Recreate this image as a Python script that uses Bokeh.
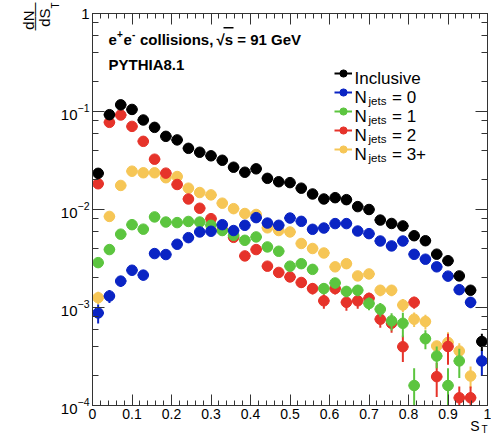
import numpy as np
from bokeh.plotting import figure
from bokeh.models import (Range1d, LinearAxis, LogAxis, FixedTicker, LogTicker,
                          CustomJSTickFormatter, LogTickFormatter, Label, Legend,
                          LegendItem, BoxAnnotation, ColumnDataSource, Title)
from bokeh.core.properties import value
from bokeh.embed import file_html
from bokeh.resources import INLINE

# ---------------- data ----------------
n_bins = 35
st_min, st_max = 0.0, 1.0
nan = float("nan")

inclusive = [0.0234, 0.0928, 0.117, 0.105, 0.0819, 0.0689, 0.0558, 0.0513, 0.0421, 0.0384,
             0.0353, 0.0318, 0.0270, 0.0240, 0.0260, 0.0208, 0.0192, 0.0188, 0.0165, 0.0144,
             0.0128, 0.0132, 0.0126, 0.0107, 0.0100, 0.0078, 0.0072, 0.0068, 0.0054, 0.0048,
             0.0035, 0.0030, 0.0021, 0.0015, 0.00045]
njets0 = [8.8e-4, 1.31e-3, 1.86e-3, 2.4e-3, 2.14e-3, 3.55e-3, 3.47e-3, 4.42e-3, 5.16e-3, 5.9e-3,
          6.0e-3, 7.0e-3, 6.1e-3, 6.9e-3, 8.26e-3, 7.27e-3, 6.9e-3, 8.18e-3, 7.57e-3, 6.28e-3,
          6.47e-3, 7.18e-3, 7.18e-3, 6.03e-3, 5.67e-3, 4.77e-3, 4.25e-3, 4.77e-3, 3.49e-3, 3.11e-3,
          2.6e-3, 2.09e-3, 1.52e-3, 1.13e-3, 2.85e-4]
njets1 = [2.87e-3, 3.9e-3, 5.6e-3, 7.0e-3, 6.3e-3, 8.4e-3, 7.45e-3, 7.35e-3, 7.55e-3, 7.45e-3,
          6.9e-3, 6.1e-3, 5.45e-3, 4.85e-3, 5.25e-3, 4.15e-3, 3.75e-3, 2.64e-3, 2.8e-3, 2.45e-3,
          1.56e-3, 1.78e-3, 1.46e-3, 1.5e-3, 1.1e-3, 9.6e-4, 7.3e-4, 6.9e-4, 1.6e-4, 4.8e-4,
          3.2e-4, 1.6e-4, 2.85e-4, nan, nan]
njets2 = [0.0183, 0.0775, 0.0921, 0.0705, 0.0496, 0.0326, 0.0235, 0.0180, 0.0128, 0.0103,
          0.00806, 0.0062, 0.0052, 0.00336, 0.0039, 0.00264, 0.00228, 0.00205, 0.0018, 0.00156,
          0.00117, 0.00156, 0.00113, 0.00117, 0.00124, 7.6e-4, 6.9e-4, 3.98e-4, 1.13e-3, nan,
          1.97e-4, 4.0e-4, 1.2e-4, 1.2e-4, nan]
njets3 = [1.26e-3, 0.0085, 0.0176, 0.0246, 0.0237, 0.0237, 0.0211, 0.0217, 0.0165, 0.0149,
          0.0141, 0.0116, 0.0102, 0.0091, 0.0089, 0.0065, 0.0061, 0.0059, 0.0045, 0.0040,
          0.0036, 0.0026, 0.0028, 0.0021, 0.0022, 0.0015, 0.0015, 0.00106, 7.6e-4, 7.2e-4,
          4.05e-4, 4.4e-4, 3.6e-4, 2.0e-4, nan]

# relative statistical uncertainties (read from the error-bar lengths)
inclusive_rel = [0.05, 0.02, 0.02, 0.02, 0.02, 0.02, 0.02, 0.02, 0.02, 0.02, 0.02, 0.02, 0.02,
                 0.02, 0.02, 0.02, 0.03, 0.03, 0.03, 0.03, 0.03, 0.03, 0.03, 0.03, 0.03, 0.04,
                 0.04, 0.04, 0.05, 0.05, 0.06, 0.06, 0.08, 0.10, 0.20]
njets0_rel = [0.22, 0.15, 0.13, 0.11, 0.12, 0.09, 0.09, 0.08, 0.07, 0.07, 0.06, 0.06, 0.06, 0.06,
              0.05, 0.06, 0.06, 0.05, 0.06, 0.06, 0.06, 0.06, 0.06, 0.06, 0.06, 0.07, 0.07, 0.07,
              0.08, 0.08, 0.09, 0.10, 0.12, 0.13, 0.30]
njets1_rel = [0.10, 0.09, 0.07, 0.07, 0.07, 0.06, 0.06, 0.06, 0.06, 0.06, 0.06, 0.07, 0.07, 0.07,
              0.07, 0.08, 0.08, 0.10, 0.10, 0.10, 0.13, 0.12, 0.13, 0.13, 0.15, 0.16, 0.20, 0.28,
              0.50, 0.22, 0.25, 0.50, 0.33, nan, nan]
njets2_rel = [0.06, 0.03, 0.03, 0.03, 0.03, 0.04, 0.04, 0.05, 0.05, 0.06, 0.06, 0.07, 0.07, 0.09,
              0.08, 0.10, 0.10, 0.11, 0.12, 0.13, 0.17, 0.13, 0.18, 0.17, 0.14, 0.18, 0.20, 0.30,
              0.14, nan, 0.38, 0.35, 0.30, 0.30, nan]
njets3_rel = [0.15, 0.08, 0.05, 0.04, 0.04, 0.04, 0.04, 0.04, 0.05, 0.05, 0.05, 0.05, 0.06, 0.06,
              0.06, 0.07, 0.07, 0.07, 0.08, 0.08, 0.09, 0.10, 0.10, 0.11, 0.11, 0.13, 0.13, 0.15,
              0.17, 0.17, 0.12, 0.27, 0.20, 0.25, nan]

x_ticks = [0.0, 0.1, 0.2, 0.3, 0.4, 0.5, 0.6, 0.7, 0.8, 0.9, 1.0]

series = [  # drawn in this order (last on top)
    ("3+", njets3, njets3_rel, "#f6c656"),
    ("2", njets2, njets2_rel, "#e6332a"),
    ("1", njets1, njets1_rel, "#5cc53f"),
    ("0", njets0, njets0_rel, "#0a24c4"),
    ("Inclusive", inclusive, inclusive_rel, "#000000"),
]
legend_order = ["Inclusive", "0", "1", "2", "3+"]

# ---------------- figure ----------------
W, H = 491, 442
BL, BR, BT, BB = 92, 4, 13, 37
FRAME_LEFT = BL              # page coordinates of the frame
FRAME_BOTTOM = H - BB

p = figure(width=W, height=H, y_axis_type="log",
           x_range=Range1d(st_min, st_max), y_range=Range1d(1e-4, 1.0),
           output_backend="svg", toolbar_location=None,
           min_border_left=BL, min_border_right=BR, min_border_top=BT, min_border_bottom=BB)
p.grid.visible = False
p.outline_line_color = "#333333"
p.background_fill_color = "white"
p.border_fill_color = "white"

xfmt = CustomJSTickFormatter(code="return (Math.abs(tick) < 1e-9 || Math.abs(tick-1) < 1e-9) ? tick.toFixed(0) : tick.toFixed(1);")
blank = CustomJSTickFormatter(code="return '';")
minor_x = [round(0.02 * k, 2) for k in range(51)]
xticker = FixedTicker(ticks=x_ticks, minor_ticks=minor_x)
yticker = LogTicker(mantissas=[1], desired_num_ticks=5)

def style_axis(ax, major_len, minor_len):
    ax.major_tick_in = major_len
    ax.major_tick_out = 0
    ax.minor_tick_in = minor_len
    ax.minor_tick_out = 0
    ax.axis_line_color = "#333333"
    ax.major_tick_line_color = "#333333"
    ax.minor_tick_line_color = "#333333"
    ax.major_label_text_font = "Liberation Sans"
    ax.major_label_text_color = "black"

xa = p.xaxis[0]
xa.ticker = xticker
xa.formatter = xfmt
style_axis(xa, 11, 5)
xa.major_label_text_font_size = "14px"
xa.major_label_standoff = 3

ya = p.yaxis[0]
ya.ticker = yticker
ya.formatter = LogTickFormatter(min_exponent=1)
style_axis(ya, 12, 6)
ya.major_label_text_font_size = "15px"
ya.major_label_standoff = 3

top = LinearAxis(ticker=xticker, formatter=blank)
style_axis(top, 11, 5)
top.major_label_standoff = 0
top.major_label_text_font_size = "2px"
p.add_layout(top, "above")
right = LogAxis(ticker=yticker, formatter=blank)
style_axis(right, 12, 6)
right.major_label_standoff = 0
right.major_label_text_font_size = "2px"
p.add_layout(right, "right")

edges = np.linspace(st_min, st_max, n_bins + 1)
centers = 0.5 * (edges[:-1] + edges[1:])
half = 0.5 * (edges[1] - edges[0])

renderers = {}
for name, vals, rels, color in series:
    y = np.array(vals, dtype=float)
    r = np.array(rels, dtype=float)
    m = ~np.isnan(y)
    x = centers[m]
    y = y[m]
    e = y * np.nan_to_num(r[m], nan=0.05)
    lo = np.maximum(y - e, 1e-6)
    hi = y + e
    seg_src = ColumnDataSource(dict(
        x0=np.concatenate([x, x - half]), x1=np.concatenate([x, x + half]),
        y0=np.concatenate([lo, y]), y1=np.concatenate([hi, y])))
    seg = p.segment("x0", "y0", "x1", "y1", source=seg_src, line_color=color, line_width=2)
    sc = p.scatter(x, y, marker="circle", size=10.5, fill_color=color, line_color=color)
    renderers[name] = (seg, sc)

# legend: glyphs via Legend, texts via labels
legend = Legend(items=[LegendItem(label=value(" "), renderers=list(renderers[k])) for k in legend_order],
                location=(334 - FRAME_LEFT, FRAME_BOTTOM - 158),
                glyph_width=18, glyph_height=18, label_height=18, label_width=1, spacing=1,
                padding=0, margin=0, label_standoff=0, label_text_font_size="8px",
                border_line_color=None, background_fill_alpha=0)
p.add_layout(legend)

def txt(xp, yp, s, size, bold=False, align="left", baseline="alphabetic", angle=0.0):
    p.add_layout(Label(x=xp - FRAME_LEFT, y=FRAME_BOTTOM - yp, x_units="screen", y_units="screen",
                       text=s, text_font="Liberation Sans", text_font_size=f"{size}px",
                       text_font_style="bold" if bold else "normal", text_color="black",
                       text_align=align, text_baseline=baseline, angle=angle))

row_c = [73, 92, 111, 130, 149]
txt(354, row_c[0] + 4.5, "Inclusive", 17)
for k, lab in enumerate(["0", "1", "2", "3+"]):
    b = row_c[k + 1] + 4.5
    txt(354, b, "N", 17)
    txt(368, b + 4, "jets", 11.5)
    txt(391.5, b, "= " + lab, 17)

# header text
txt(108, 39, "e", 15, bold=True)
txt(116.5, 33, "+", 10, bold=True)
txt(123, 39, "e", 15, bold=True)
txt(131.5, 33, "-", 10, bold=True)
txt(139.5, 39, "collisions,", 15, bold=True)
txt(216, 39, "\u221as = 91 GeV", 15, bold=True)
p.add_layout(BoxAnnotation(left=223 - FRAME_LEFT, right=233 - FRAME_LEFT,
                           top=FRAME_BOTTOM - 26.5, bottom=FRAME_BOTTOM - 28,
                           left_units="screen", right_units="screen",
                           top_units="screen", bottom_units="screen",
                           fill_color="black", fill_alpha=1, line_color=None))
txt(108, 64, "PYTHIA8.1", 15, bold=True)

# axis titles (side-panel titles, ROOT style at the axis ends)
def side_title(text, size, place, standoff, offset, valign):
    p.add_layout(Title(text=text, align="right", offset=offset, standoff=standoff,
                       vertical_align=valign, text_font="Liberation Sans",
                       text_font_size=f"{size}px", text_font_style="normal",
                       text_color="black"), place)

side_title("T", 10, "left", -7, -11, "bottom")
side_title("dS", 15, "left", -2, -5, "bottom")
side_title("\u2014\u2014", 14, "left", -15, -11, "bottom")
side_title("dN", 15, "left", -11, -3, "bottom")

side_title("S", 14, "below", -12, 8, "bottom")
side_title("T", 10, "below", -7, 0, "top")

open("out.html", "w").write(file_html(p, INLINE))
